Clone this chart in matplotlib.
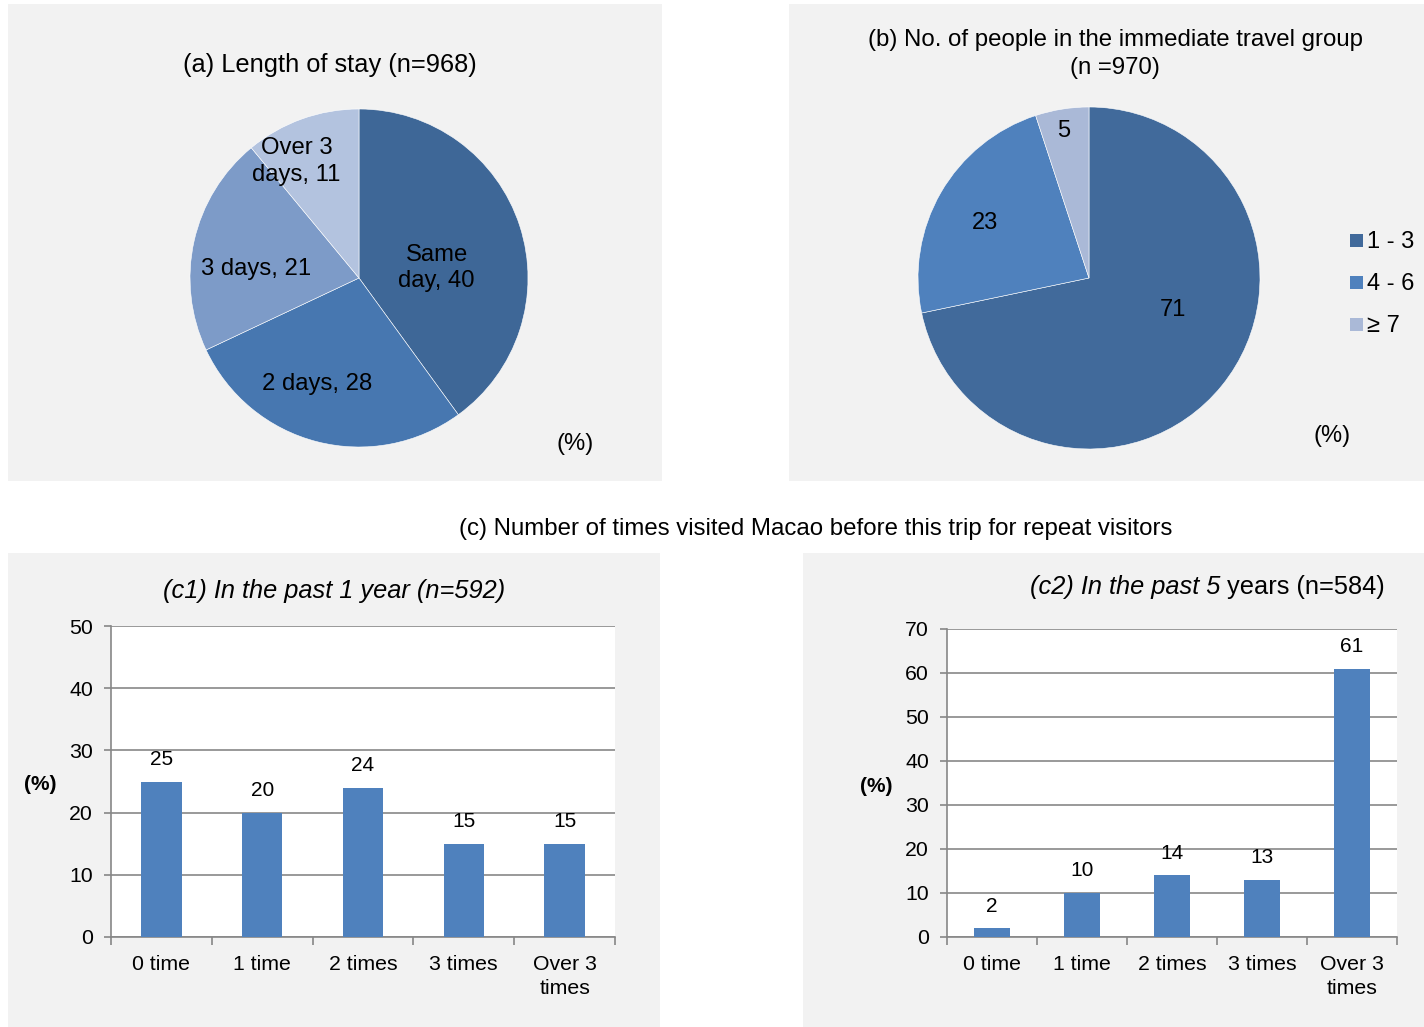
import numpy as np
import matplotlib.pyplot as plt
from matplotlib.patches import Rectangle

plt.rcParams['font.family'] = ['Liberation Sans', 'DejaVu Sans']

# (a) length of stay
stay_labels = ['Same\nday, 40', '2 days, 28', '3 days, 21', 'Over 3\ndays, 11']
stay_values = [40, 28, 21, 11]
stay_colors = ['#3E6797', '#4777B0', '#7D9BC8', '#B3C3DF']

# (b) travel group size
group_labels = ['1 - 3', '4 - 6', '\u2265 7']
group_values = [71, 23, 5]
group_colors = ['#416A9B', '#4F81BD', '#AAB9D7']

# (c) previous visits
visit_cats = ['0 time', '1 time', '2 times', '3 times', 'Over 3\ntimes']
visits_1yr = [25, 20, 24, 15, 15]
visits_5yr = [2, 10, 14, 13, 61]

W, H = 1424, 1027
fig = plt.figure(figsize=(W / 100, H / 100), dpi=100)
fig.patch.set_facecolor('white')


def rect(x0, y0, x1, y1):
    # pixel box (origin top-left) -> figure fraction [left, bottom, w, h]
    return [x0 / W, 1 - y1 / H, (x1 - x0) / W, (y1 - y0) / H]


def ftext(x, y, s, **kw):
    kw.setdefault('ha', 'center')
    kw.setdefault('va', 'center')
    return fig.text(x / W, 1 - (y + 2) / H, s, **kw)


# light grey panels
for x0, y0, x1, y1 in [(8, 4, 662, 481), (789, 4, 1424, 481),
                       (8, 553, 660, 1027), (803, 553, 1424, 1027)]:
    l, b, w, h = rect(x0, y0, x1, y1)
    fig.add_artist(Rectangle((l, b), w, h, transform=fig.transFigure,
                             facecolor='#F2F2F2', edgecolor='none', zorder=0))

# ---- pie (a)
ax_a = fig.add_axes(rect(190, 109, 528, 447))
ax_a.pie(stay_values, colors=stay_colors, startangle=90, counterclock=False,
         radius=1, wedgeprops=dict(edgecolor='white', linewidth=0.4))
ax_a.set_xlim(-1, 1)
ax_a.set_ylim(-1, 1)
ax_a.set_aspect('equal')
ax_a.set_axis_off()
stay_pos = [(0.46, 0.06), (-0.25, -0.63), (-0.61, 0.055), (-0.37, 0.69)]
for (x, y), s in zip(stay_pos, stay_labels):
    ax_a.text(x, y, s, ha='center', va='center', fontsize=17.2,
              linespacing=1.25)
ftext(330, 63, '(a) Length of stay (n=968)', fontsize=18.3)
ftext(575, 442, '(%)', fontsize=17.2)

# ---- pie (b)
ax_b = fig.add_axes(rect(918, 107, 1260, 449))
ax_b.pie(group_values, colors=group_colors, startangle=90,
         counterclock=False, radius=1,
         wedgeprops=dict(edgecolor='white', linewidth=0.4))
ax_b.set_xlim(-1, 1)
ax_b.set_ylim(-1, 1)
ax_b.set_aspect('equal')
ax_b.set_axis_off()
group_pos = [(0.49, -0.19), (-0.61, 0.32), (-0.15, 0.86)]
for (x, y), v in zip(group_pos, group_values):
    ax_b.text(x, y, str(v), ha='center', va='center', fontsize=17)
ftext(1115, 38, '(b) No. of people in the immediate travel group', fontsize=17.3)
ftext(1115, 66, '(n =970)', fontsize=17.3)
ftext(1332, 434, '(%)', fontsize=17)
for i, (lab, col) in enumerate(zip(group_labels, group_colors)):
    yy = 240 + 42 * i
    l, b, w, h = rect(1350, yy - 6, 1363, yy + 7)
    fig.add_artist(Rectangle((l, b), w, h, transform=fig.transFigure,
                             facecolor=col, edgecolor='none'))
    ftext(1367, yy, lab, ha='left', fontsize=17)

# ---- (c) bar charts
ftext(816, 527, '(c) Number of times visited Macao before this trip for repeat visitors',
      fontsize=17.3)


def bar_panel(box, values, ymax):
    ax = fig.add_axes(rect(*box))
    ax.set_facecolor('white')
    x = np.arange(len(values))
    ax.bar(x, values, width=0.4, color='#4F81BD', zorder=3)
    for xi, v in zip(x, values):
        ax.annotate(str(v), (xi, v), xytext=(0, 9), textcoords='offset points',
                    ha='center', va='bottom', fontsize=15)
    ax.set_xlim(-0.5, len(values) - 0.5)
    ax.set_ylim(0, ymax)
    ax.set_yticks(np.arange(0, ymax + 1, 10))
    ax.yaxis.grid(True, color='#878787', linewidth=1.2, zorder=0)
    ax.set_axisbelow(True)
    ax.set_xticks(np.arange(-0.5, len(values), 1))
    ax.set_xticklabels([])
    ax.set_xticks(x, minor=True)
    ax.set_xticklabels(visit_cats, minor=True, linespacing=1.3)
    ax.tick_params(axis='x', which='major', length=6, width=1.2, color='#878787')
    ax.tick_params(axis='x', which='minor', length=0, pad=13, labelsize=15.3)
    ax.tick_params(axis='y', length=5, width=1.2, color='#878787', pad=8,
                   labelsize=15.3)
    for side in ['top', 'right']:
        ax.spines[side].set_visible(False)
    for side in ['left', 'bottom']:
        ax.spines[side].set_color('#878787')
        ax.spines[side].set_linewidth(1.2)
    return ax


ax_c1 = bar_panel((111, 626, 615, 937), visits_1yr, 50)
ftext(40, 783, '(%)', fontsize=15, fontweight='bold')
ftext(334, 589, '(c1) In the past 1 year (n=592)', fontsize=18.3, style='italic')

ax_c2 = bar_panel((947, 629, 1397, 937), visits_5yr, 70)
ftext(876, 785, '(%)', fontsize=15, fontweight='bold')
# title mixes italic and upright text
t1 = ftext(1030, 585, '(c2) In the past 5', ha='left', fontsize=18.3, style='italic')
ax_c2.annotate(' years (n=584)', xy=(1, 0), xycoords=t1, ha='left', va='bottom',
               fontsize=18.3, annotation_clip=False)

fig.savefig('out.png', dpi=100)
